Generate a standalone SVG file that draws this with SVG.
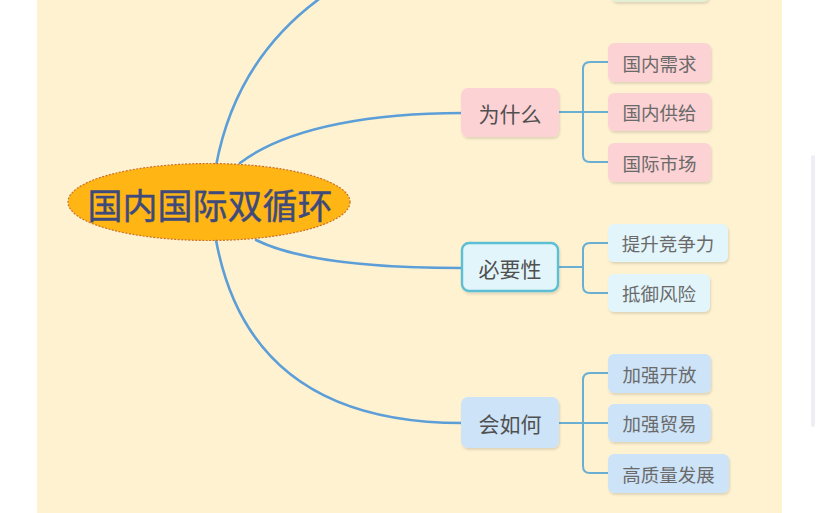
<svg xmlns="http://www.w3.org/2000/svg" width="822" height="513" viewBox="0 0 822 513">
  <defs>
    <filter id="sh" x="-10%" y="-10%" width="130%" height="140%">
      <feDropShadow dx="1" dy="2" stdDeviation="1.2" flood-color="#000" flood-opacity="0.12"/>
    </filter>
  </defs>
  <style>
    text { font-family: "Noto Sans CJK SC", "Noto Sans", sans-serif; text-anchor: middle; dominant-baseline: central; }
    .conn { fill: none; stroke: #5C9ED8; stroke-width: 2.6; stroke-linecap: round; }
    .br { fill: none; stroke: #6AAFD2; stroke-width: 2; }
    .p { font-size: 21px; fill: #505050; }
    .c { font-size: 18.5px; fill: #6A6A6A; }
    .pink { fill: #FDD2D4; }
    .cyan { fill: #E2F5FB; }
    .blue { fill: #CDE3F8; }
  </style>
  <rect x="0" y="0" width="822" height="513" fill="#FFFFFF"/>
  <rect x="37" y="0" width="745" height="513" fill="#FFF2D1"/>
  <line x1="813" y1="157" x2="813" y2="425" stroke="#EFEEF4" stroke-width="4" stroke-linecap="round"/>

  <g id="connectors">
    <path class="conn" d="M216,166 C230,90 270,30 335,-12"/>
    <path class="conn" d="M240,163 C290,125 380,113 462,113"/>
    <path class="conn" d="M256,240 C300,262 380,268 462,268"/>
    <path class="conn" d="M216,240 C240,370 330,423 462,423"/>
    <path class="br" d="M559,112 H583 M608,62 H590 Q583,62 583,69 V155 Q583,162 590,162 H608 M583,112 H608"/>
    <path class="br" d="M559,267 H583 M608,243 H590 Q583,243 583,250 V286 Q583,293 590,293 H608"/>
    <path class="br" d="M559,423 H583 M608,373 H590 Q583,373 583,380 V466 Q583,473 590,473 H608 M583,423 H608"/>
  </g>

  <g id="top-partial">
    <rect x="611" y="-40" width="98" height="42" rx="6" fill="#E4F0D6" filter="url(#sh)"/>
  </g>

  <g id="root">
    <ellipse cx="209" cy="202" rx="141" ry="38.5" fill="#FFB514" stroke="#C9702A" stroke-width="1.2" stroke-dasharray="2 1.5"/>
    <text x="210" y="203" font-size="35" fill="#3E4A7C" stroke="#3E4A7C" stroke-width="0.4">国内国际双循环</text>
  </g>

  <g id="weishenme">
    <rect x="461" y="88" width="98" height="49" rx="7" class="pink" filter="url(#sh)"/>
    <text class="p" x="510" y="112.5">为什么</text>
  </g>
  <g id="guoneixuqiu">
    <rect x="608" y="43" width="103" height="39" rx="6" class="pink" filter="url(#sh)"/>
    <text class="c" x="659.5" y="62.5">国内需求</text>
  </g>
  <g id="guoneigongji">
    <rect x="608" y="93" width="103" height="38" rx="6" class="pink" filter="url(#sh)"/>
    <text class="c" x="659.5" y="112">国内供给</text>
  </g>
  <g id="guojishichang">
    <rect x="608" y="143" width="103" height="39" rx="6" class="pink" filter="url(#sh)"/>
    <text class="c" x="659.5" y="162.5">国际市场</text>
  </g>

  <g id="biyaoxing">
    <rect x="462" y="243" width="96" height="48" rx="7" class="cyan" stroke="#5CBFD3" stroke-width="2.4" filter="url(#sh)"/>
    <text class="p" x="510" y="267.5">必要性</text>
  </g>
  <g id="tishengjingzhengli">
    <rect x="608" y="224" width="120" height="38" rx="6" class="cyan" filter="url(#sh)"/>
    <text class="c" x="668" y="243">提升竞争力</text>
  </g>
  <g id="diyufengxian">
    <rect x="608" y="274" width="102" height="38" rx="6" class="cyan" filter="url(#sh)"/>
    <text class="c" x="659" y="293">抵御风险</text>
  </g>

  <g id="huiruhe">
    <rect x="461" y="397" width="98" height="51" rx="7" class="blue" filter="url(#sh)"/>
    <text class="p" x="510" y="423">会如何</text>
  </g>
  <g id="jiaqiangkaifang">
    <rect x="608" y="354" width="103" height="39" rx="6" class="blue" filter="url(#sh)"/>
    <text class="c" x="659.5" y="373.5">加强开放</text>
  </g>
  <g id="jiaqiangmaoyi">
    <rect x="608" y="404" width="103" height="38" rx="6" class="blue" filter="url(#sh)"/>
    <text class="c" x="659.5" y="423">加强贸易</text>
  </g>
  <g id="gaozhiliangfazhan">
    <rect x="608" y="454" width="121" height="39" rx="6" class="blue" filter="url(#sh)"/>
    <text class="c" x="668.5" y="473.5">高质量发展</text>
  </g>
</svg>
